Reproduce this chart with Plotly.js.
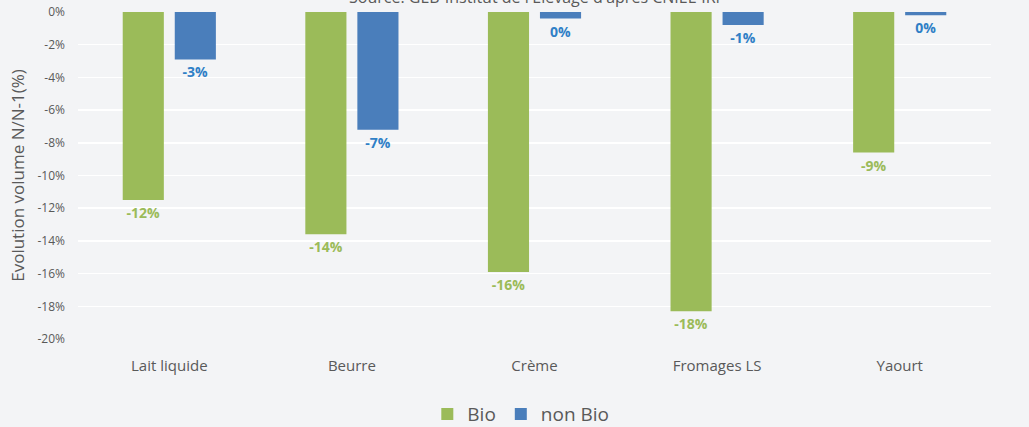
<!DOCTYPE html>
<html><head><meta charset="utf-8">
<script src="https://cdn.plot.ly/plotly-3.0.1.min.js"></script>
<style>html,body{margin:0;padding:0;background:#f3f4f6;}#chart{width:1029px;height:427px;}</style>
</head><body><div id="chart"></div>
<script>
const categories = ['Lait liquide', 'Beurre', 'Crème', 'Fromages LS', 'Yaourt'];
const bioValues = [-11.5, -13.6, -15.9, -18.3, -8.6];
const nonBioValues = [-2.9, -7.2, -0.4, -0.8, -0.2];
const bioLabels = ['-12%', '-14%', '-16%', '-18%', '-9%'];
const nonBioLabels = ['-3%', '-7%', '0%', '-1%', '0%'];
const yTickVals = [0, -2, -4, -6, -8, -10, -12, -14, -16, -18, -20];
const yTickText = ['0%', '-2%', '-4%', '-6%', '-8%', '-10%', '-12%', '-14%', '-16%', '-18%', '-20%'];

const traces = [
  {type: 'bar', name: 'Bio', x: categories, y: bioValues, text: bioLabels,
   textposition: 'outside', cliponaxis: false,
   marker: {color: '#9bbb59'},
   outsidetextfont: {color: '#9bbb59', size: 14, family: 'Open Sans, sans-serif', weight: 'bold'},
   hoverinfo: 'none'},
  {type: 'bar', name: 'non Bio', x: categories, y: nonBioValues, text: nonBioLabels,
   textposition: 'outside', cliponaxis: false,
   marker: {color: '#4a7ebb'},
   outsidetextfont: {color: '#2f7fc6', size: 14, family: 'Open Sans, sans-serif', weight: 'bold'},
   hoverinfo: 'none'}
];

const layout = {
  width: 1029, height: 427,
  paper_bgcolor: '#f3f4f6', plot_bgcolor: '#f3f4f6',
  margin: {l: 78, r: 38, t: 12, b: 88, autoexpand: false},
  barmode: 'group', bargap: 0.43, bargroupgap: 0.21,
  font: {family: 'Open Sans, sans-serif', color: '#595959'},
  showlegend: true,
  legend: {orientation: 'h', x: 0.485, xanchor: 'center', yref: 'container', y: 0.03, yanchor: 'middle',
           font: {size: 19, color: '#595959'}, bgcolor: 'rgba(0,0,0,0)'},
  xaxis: {showgrid: false, zeroline: false, showline: false, ticks: '',
          tickfont: {size: 15, color: '#595959'}, ticklabelstandoff: 16},
  yaxis: {range: [-20, 0], tickvals: yTickVals, ticktext: yTickText,
          showgrid: true, gridcolor: '#ffffff', gridwidth: 1.5, zeroline: false,
          tickfont: {size: 12, color: '#595959'}, ticklabelstandoff: 12,
          title: {text: 'Evolution volume N/N-1(%)', font: {size: 17, color: '#595959'}, standoff: 8}},
  annotations: [
    {text: "Source: GEB-Institut de l'Elevage d'après CNIEL-IRI", xref: 'paper', yref: 'paper',
     x: 0.5, xanchor: 'center', y: 1.046, yanchor: 'middle', showarrow: false,
     font: {size: 16, color: '#595959'}}
  ]
};

Plotly.newPlot('chart', traces, layout, {displayModeBar: false, staticPlot: true});
</script></body></html>
